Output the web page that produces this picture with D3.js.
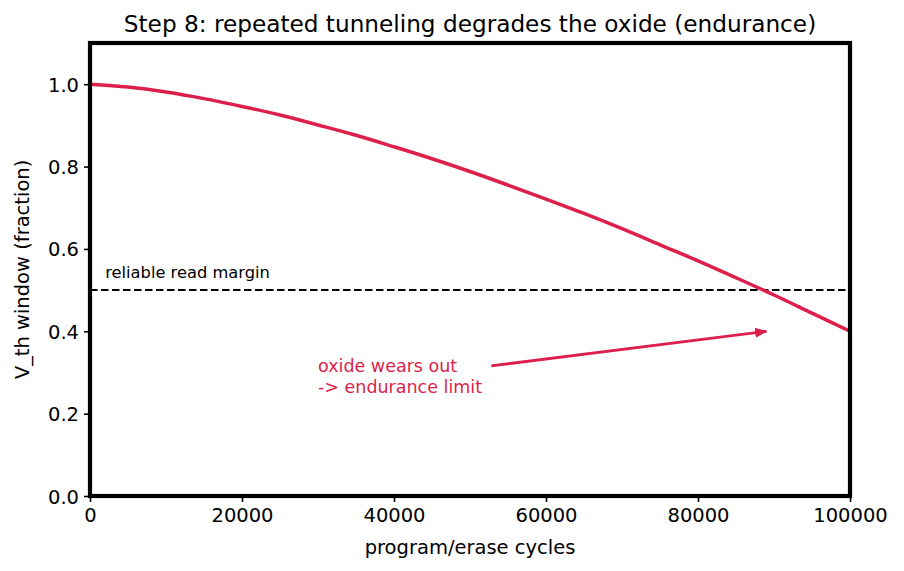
<!DOCTYPE html>
<html><head><meta charset="utf-8">
<script src="https://cdn.jsdelivr.net/npm/d3@7"></script>
<style>body{margin:0;background:#fff}svg{display:block}text{font-family:"DejaVu Sans",sans-serif}</style>
</head><body>
<script>
const cycles = [0,5000,10000,15000,20000,25000,30000,35000,40000,45000,50000,55000,60000,65000,70000,75000,80000,85000,90000,95000,100000];
const vthWindow = [1.0,0.993,0.981,0.965,0.946,0.925,0.901,0.876,0.848,0.819,0.788,0.755,0.721,0.686,0.649,0.610,0.571,0.530,0.488,0.444,0.400];
const xTicks = [0,20000,40000,60000,80000,100000];
const yTicks = [0.0,0.2,0.4,0.6,0.8,1.0];
const marginLevel = [0.5];
const marginLabel = "reliable read margin";
const annotationLines = ["oxide wears out","-> endurance limit"];
const arrowTip = [89000,0.40];
const arrowTail = [52800,0.316];
const annotationAt = [30000,0.25];

const W=904,H=571, L=90,R=850,T=43,B=496;
const red = "#dc1f4b";
const svg=d3.select("body").append("svg").attr("width",W).attr("height",H);
const x=d3.scaleLinear().domain([0,100000]).range([L,R]);
const y=d3.scaleLinear().domain([0,1.1]).range([B,T]);

// margin line
svg.append("line").attr("x1",x(0)).attr("x2",x(100000)).attr("y1",y(marginLevel[0])).attr("y2",y(marginLevel[0]))
  .attr("stroke","#000").attr("stroke-width",2).attr("stroke-dasharray","7.5,3.5");
svg.append("text").attr("x",x(2000)).attr("y",y(0.53)+0.5).attr("font-size",16.3).attr("fill","#000").text(marginLabel);

// curve
const line=d3.line().x((d,i)=>x(cycles[i])).y(d=>y(d)).curve(d3.curveMonotoneX);
svg.append("path").datum(vthWindow).attr("d",line).attr("fill","none").attr("stroke",red).attr("stroke-width",3.5);

// annotation
const at=svg.append("text").attr("font-size",17.5).attr("fill",red);
annotationLines.forEach((t,i)=>{
  at.append("tspan").attr("x",x(annotationAt[0])).attr("y",y(annotationAt[1]) - 21 + i*21).text(t);
});
const defs=svg.append("defs");
defs.append("marker").attr("id","ah").attr("viewBox","0 0 10 10").attr("refX",9).attr("refY",5)
  .attr("markerWidth",4.5).attr("markerHeight",4.5).attr("orient","auto").attr("markerUnits","strokeWidth")
  .append("path").attr("d","M0,1 L10,5 L0,9 z").attr("fill",red);
svg.append("line").attr("x1",x(arrowTail[0])).attr("y1",y(arrowTail[1])).attr("x2",x(arrowTip[0])).attr("y2",y(arrowTip[1]))
  .attr("stroke",red).attr("stroke-width",2.8).attr("marker-end","url(#ah)");

// axes
const xa=svg.append("g").attr("transform",`translate(0,${B})`).call(d3.axisBottom(x).tickValues(xTicks).tickFormat(d3.format("d")).tickSize(6).tickPadding(6));
const ya=svg.append("g").attr("transform",`translate(${L},0)`).call(d3.axisLeft(y).tickValues(yTicks).tickFormat(d3.format(".1f")).tickSize(6).tickPadding(5));
[xa,ya].forEach(g=>{g.select(".domain").remove();g.selectAll("line").attr("stroke","#000").attr("stroke-width",1.6);
  g.selectAll("text").attr("font-size",19.5).attr("fill","#000").attr("font-family","DejaVu Sans");});
ya.selectAll("text").attr("dy","0.36em");

// frame
svg.append("rect").attr("x",L).attr("y",T).attr("width",R-L).attr("height",B-T).attr("fill","none").attr("stroke","#000").attr("stroke-width",4.2);

// labels
svg.append("text").attr("x",(L+R)/2).attr("y",32).attr("text-anchor","middle").attr("font-size",23.2).attr("fill","#000")
  .text("Step 8: repeated tunneling degrades the oxide (endurance)");
svg.append("text").attr("x",(L+R)/2).attr("y",554).attr("text-anchor","middle").attr("font-size",19.5).attr("fill","#000").text("program/erase cycles");
svg.append("text").attr("transform",`translate(29,${(T+B)/2}) rotate(-90)`).attr("text-anchor","middle").attr("font-size",19.5).attr("fill","#000").text("V_th window (fraction)");
</script>
</body></html>
